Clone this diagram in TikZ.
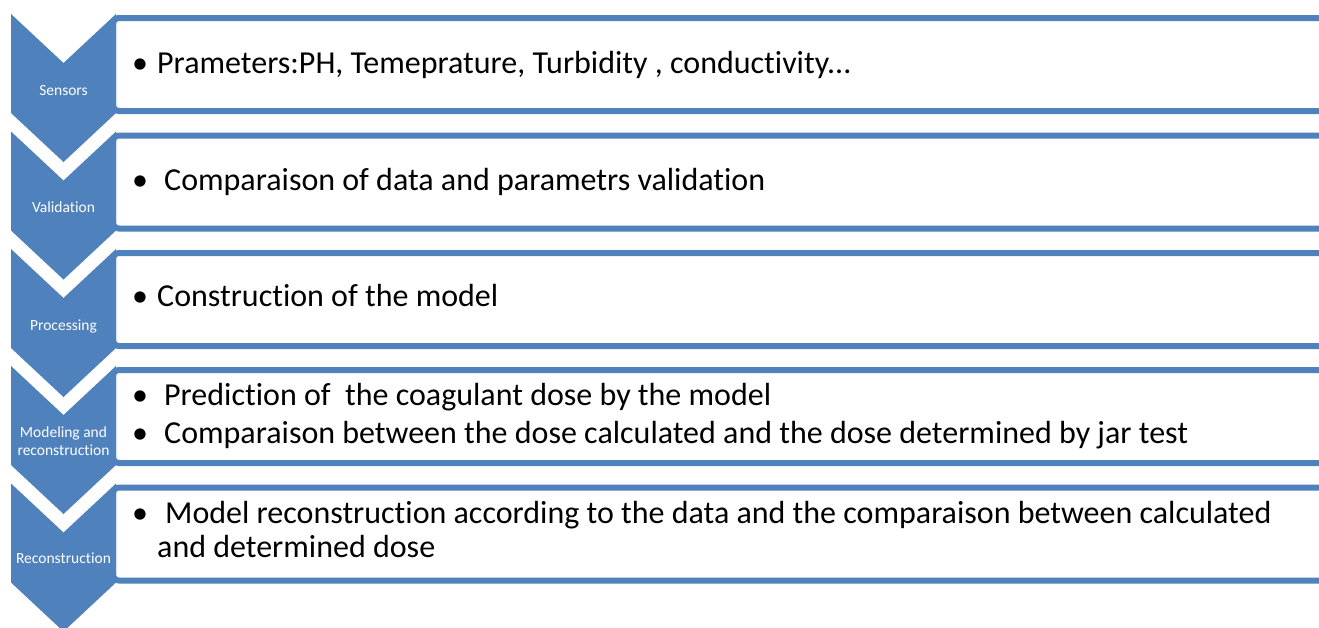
\documentclass[tikz,border=0pt]{standalone}
\usepackage{fontspec}
\setmainfont[RawFeature={-liga;-clig}]{Carlito}
\definecolor{ablue}{HTML}{4F81BD}
\begin{document}
\begin{tikzpicture}[x=1pt,y=-1pt,
  chev/.style={fill=ablue,draw=none},
  panel/.style={draw=ablue,line width=6pt,fill=white,rounded corners=6pt},
  lab/.style={text=white,font=\fontsize{15.5}{18}\selectfont,align=center,inner sep=0pt,anchor=base},
  item/.style={font=\fontsize{32}{34}\selectfont,inner sep=0pt,anchor=base west},
  bul/.style={font=\fontsize{32}{34}\selectfont,inner sep=0pt,anchor=base}]
\useasboundingbox (0,0) rectangle (1319,627);
\clip (0,0) rectangle (1319,627);
\fill[white] (0,0) rectangle (1319,627);
\def\panelat#1{\draw[panel] (113,{#1+4}) rectangle (1340,{#1+97});}
\def\chevat#1{\fill[chev] (11,#1) -- ++(52.5,49) -- ++(52.5,-49) -- ++(0,99) -- ++(-52.5,49) -- ++(-52.5,-49) -- cycle;}
% panels
\panelat{14}
\panelat{131.5}
\panelat{249}
\panelat{366}
\panelat{483.5}
% chevrons
\chevat{14}
\chevat{131.5}
\chevat{249}
\chevat{366}
\chevat{483.5}
% chevron labels
\node[lab] (c1) at (63.5,95) {Sensors};
\node[lab] (c2) at (63.5,212) {Validation};
\node[lab] (c3) at (63.5,330) {Processing};
\node[lab] (c4) at (63.5,455) {Modeling and\\reconstruction};
\node[lab] (c5) at (63.5,563) {Reconstruction};
% bullets
\node[bul] (u1) at (140,73) {•};
\node[bul] (u2) at (140,190) {•};
\node[bul] (u3) at (140,306) {•};
\node[bul] (u4) at (140,405) {•};
\node[bul] (u5) at (140,443) {•};
\node[bul] (u6) at (140,523) {•};
% texts
\node[item] (t1) at (157,73) {Prameters:PH, Temeprature, Turbidity , conductivity...};
\node[item] (t2) at (164,190) {Comparaison of data and parametrs validation};
\node[item] (t3) at (157,306) {Construction of the model};
\node[item] (t4) at (164,405) {Prediction of\ \ the coagulant dose by the model};
\node[item] (t5) at (164,443) {Comparaison between the dose calculated and the dose determined by jar test};
\node[item] (t6) at (165,523) {Model reconstruction according to the data and the comparaison between calculated};
\node[item] (t7) at (157,557) {and determined dose};
\end{tikzpicture}
\end{document}
